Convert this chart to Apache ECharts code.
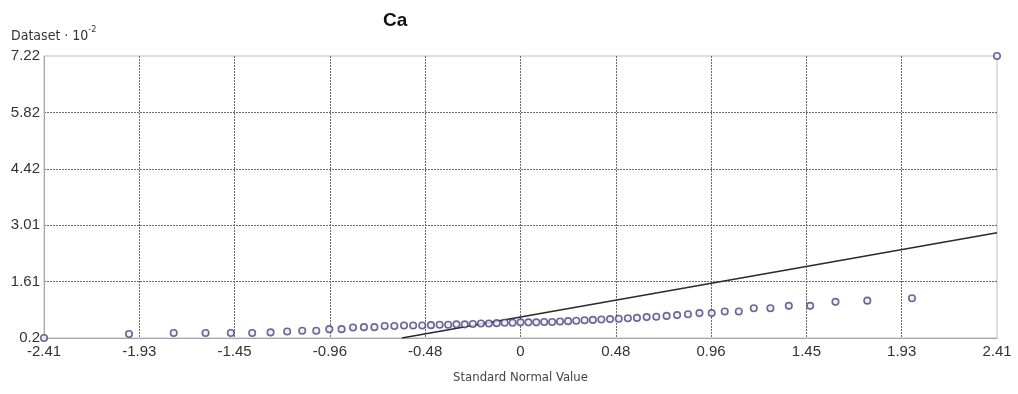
<!DOCTYPE html>
<html>
<head>
<meta charset="utf-8">
<script src="https://cdn.jsdelivr.net/npm/echarts@6/dist/echarts.min.js"></script>
<style>
html,body{margin:0;padding:0;background:#fff;}
#chart{width:1018px;height:394px;}
</style>
</head>
<body>
<div id="chart"></div>
<script>
// Standard normal value (x) for each sample point
var normalValues = [
  -2.41, -1.98, -1.754, -1.593, -1.465, -1.357, -1.264, -1.18, -1.104, -1.033,
  -0.967, -0.905, -0.847, -0.792, -0.739, -0.687, -0.638, -0.589, -0.543, -0.497,
  -0.453, -0.409, -0.366, -0.324, -0.282, -0.241, -0.2, -0.16, -0.12, -0.08,
  -0.04, 0, 0.04, 0.08, 0.12, 0.16, 0.2, 0.241, 0.282, 0.324,
  0.366, 0.409, 0.453, 0.497, 0.543, 0.589, 0.638, 0.687, 0.739, 0.792,
  0.847, 0.905, 0.967, 1.033, 1.104, 1.18, 1.264, 1.357, 1.465, 1.593,
  1.754, 1.98, 2.41
];
// Dataset values (x 10^-2)
var datasetValues = [
  0.2, 0.30, 0.325, 0.325, 0.325, 0.325, 0.34, 0.36, 0.38, 0.38,
  0.42, 0.42, 0.46, 0.47, 0.47, 0.50, 0.50, 0.51, 0.51, 0.51,
  0.52, 0.53, 0.53, 0.54, 0.54, 0.55, 0.56, 0.56, 0.57, 0.58,
  0.58, 0.59, 0.59, 0.59, 0.60, 0.60, 0.61, 0.62, 0.63, 0.64,
  0.65, 0.66, 0.67, 0.68, 0.69, 0.70, 0.72, 0.73, 0.75, 0.77,
  0.79, 0.82, 0.82, 0.86, 0.86, 0.94, 0.94, 1.0, 1.0, 1.1,
  1.13, 1.19, 7.22
];
// Reference line end points [x, y]
var refLineX = [-0.6, 2.41];
var refLineY = [0.2, 2.82];

var xTickLabels = ['-2.41','-1.93','-1.45','-0.96','-0.48','0','0.48','0.96','1.45','1.93','2.41'];
var yTickLabels = ['0.2','1.61','3.01','4.42','5.82','7.22'];

var xMin = -2.41, xMax = 2.41, xStep = 0.482;
var yMin = 0.2, yMax = 7.22, yStep = 1.404;

var points = normalValues.map(function (x, i) { return [x, datasetValues[i]]; });
var linePts = refLineX.map(function (x, i) { return [x, refLineY[i]]; });

var labelFont = "'Liberation Sans',Arial,sans-serif";
var nameFont = "'DejaVu Sans Condensed','DejaVu Sans',sans-serif";
var gridLine = { show: true, showMinLine: false, showMaxLine: false,
  lineStyle: { color: '#6a6a6a', type: [2, 1], width: 1 } };

var chart = echarts.init(document.getElementById('chart'), null, { renderer: 'canvas' });
chart.setOption({
  animation: false,
  backgroundColor: '#ffffff',
  title: [
    {
      text: 'Ca',
      left: 383,
      top: 11,
      padding: 0,
      textStyle: { fontFamily: "'Liberation Sans',sans-serif", fontSize: 19, fontWeight: 'bold', color: '#111' }
    },
    {
      text: '{m|Dataset · 10}{s|-2}',
      left: 11,
      top: 25,
      padding: 0,
      textStyle: {
        fontWeight: 'normal',
        rich: {
          m: { fontFamily: nameFont, fontSize: 14, fontWeight: 'normal', color: '#333', lineHeight: 18, verticalAlign: 'bottom' },
          s: { fontFamily: nameFont, fontSize: 9, fontWeight: 'normal', color: '#333', lineHeight: 18, verticalAlign: 'top' }
        }
      }
    }
  ],
  grid: {
    left: 44, right: 21, top: 56, bottom: 56,
    show: true, borderColor: '#bdbdbd', borderWidth: 1, backgroundColor: 'transparent'
  },
  xAxis: {
    type: 'value',
    min: xMin, max: xMax, interval: xStep,
    name: 'Standard Normal Value',
    nameLocation: 'middle',
    nameGap: 33,
    nameTextStyle: { fontFamily: nameFont, fontSize: 13, color: '#444' },
    axisLine: { show: true, onZero: false, lineStyle: { color: '#a8a8a8', width: 1 } },
    axisTick: { show: false },
    splitLine: gridLine,
    axisLabel: {
      margin: 6,
      fontFamily: labelFont, fontSize: 15, color: '#333',
      formatter: function (v) { return xTickLabels[Math.round((v - xMin) / xStep)]; }
    }
  },
  yAxis: {
    type: 'value',
    min: yMin, max: yMax, interval: yStep,
    axisLine: { show: true, onZero: false, lineStyle: { color: '#a8a8a8', width: 1 } },
    axisTick: { show: false },
    splitLine: gridLine,
    axisLabel: {
      margin: 4,
      fontFamily: labelFont, fontSize: 15, color: '#333',
      formatter: function (v) { return yTickLabels[Math.round((v - yMin) / yStep)]; }
    }
  },
  series: [
    {
      type: 'line',
      data: linePts,
      symbol: 'none',
      silent: true,
      lineStyle: { color: '#2a2a2a', width: 1.5 },
      z: 2
    },
    {
      type: 'scatter',
      data: points,
      symbol: 'circle',
      symbolSize: 6.5,
      clip: false,
      itemStyle: { color: '#eeeef8', borderColor: '#45457a', borderWidth: 1.6 },
      z: 3
    }
  ]
});
</script>
</body>
</html>
